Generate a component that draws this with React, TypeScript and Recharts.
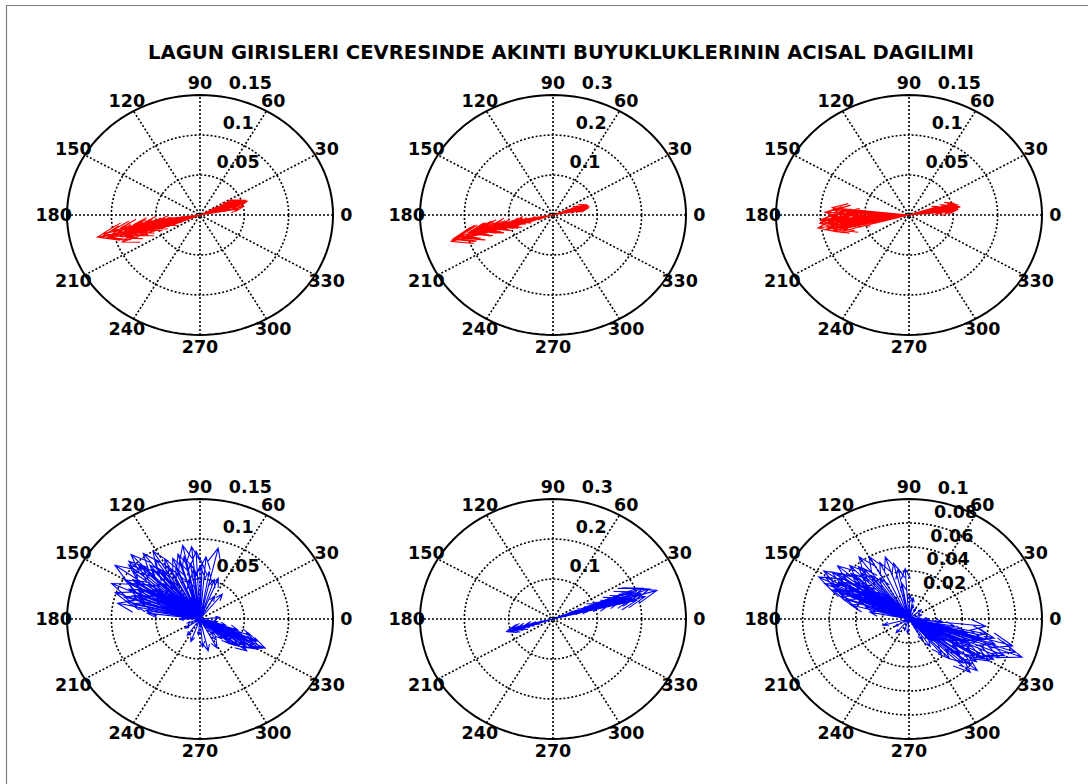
import { ComposedChart, Line, Scatter, XAxis, YAxis } from "recharts";

// Current directions (degrees, math convention) and magnitudes per station.
const topLeftDir = [193.5, 192, 195, 191, 194, 196, 190, 193, 197, 192, 195, 189, 194, 198, 191, 196, 193, 199, 190, 195, 192, 197, 194, 191, 196, 193, 199, 190, 195, 192, 201, 188, 200, 187, 202, 201, 199, 194, 196, 192, 195, 193, 197, 191, 194, 196, 193, 195, 198, 192, 194, 190, 197, 195, 193, 196, 194,
  18, 20, 16, 22, 19, 24, 17, 21, 15, 23, 19, 26, 14, 20, 17, 22, 18, 25, 16, 21, 12, 10, 19, 21, 17, 23, 15, 20, 18, 22, 16, 24];
const topLeftSpeed = [0.119, 0.112, 0.108, 0.1, 0.098, 0.094, 0.09, 0.087, 0.084, 0.081, 0.078, 0.075, 0.072, 0.07, 0.067, 0.064, 0.061, 0.058, 0.055, 0.052, 0.049, 0.046, 0.043, 0.04, 0.036, 0.032, 0.028, 0.024, 0.02, 0.015, 0.072, 0.062, 0.05, 0.045, 0.035, 0.094, 0.088, 0.115, 0.104, 0.096, 0.091, 0.085, 0.079, 0.076, 0.071, 0.068, 0.063, 0.059, 0.054, 0.051, 0.047, 0.042, 0.038, 0.034, 0.03, 0.026, 0.022,
  0.056, 0.054, 0.052, 0.05, 0.048, 0.046, 0.045, 0.043, 0.041, 0.04, 0.038, 0.036, 0.034, 0.032, 0.029, 0.026, 0.022, 0.019, 0.015, 0.011, 0.05, 0.044, 0.053, 0.051, 0.047, 0.045, 0.042, 0.039, 0.035, 0.031, 0.027, 0.024];

const topMidDir = [196, 195, 194, 196.5, 193, 195, 192, 194, 191, 196, 193, 190, 195, 192, 194, 197, 191, 193, 195, 192, 196, 194, 191, 193, 195, 192, 194, 198, 189, 197, 195, 194, 196, 193, 195, 192, 194, 196, 193, 195, 194, 192, 195, 193, 196,
  14, 17, 12, 19, 15, 13, 18, 16, 11, 20, 14, 17, 12, 15, 19, 13, 16, 14, 18, 15, 15, 13, 16, 14, 17, 12, 15, 18];
const topMidSpeed = [0.239, 0.228, 0.215, 0.205, 0.196, 0.185, 0.176, 0.168, 0.16, 0.152, 0.145, 0.138, 0.13, 0.122, 0.114, 0.106, 0.098, 0.09, 0.082, 0.074, 0.066, 0.058, 0.05, 0.042, 0.034, 0.026, 0.018, 0.095, 0.085, 0.125, 0.234, 0.222, 0.21, 0.19, 0.18, 0.171, 0.155, 0.148, 0.135, 0.118, 0.102, 0.086, 0.07, 0.054, 0.038,
  0.084, 0.082, 0.08, 0.078, 0.076, 0.073, 0.07, 0.067, 0.064, 0.061, 0.058, 0.054, 0.05, 0.046, 0.042, 0.037, 0.032, 0.027, 0.021, 0.015, 0.081, 0.075, 0.071, 0.065, 0.06, 0.052, 0.044, 0.035];

const topRightDir = [189, 186, 183, 178, 174, 191, 187, 181, 176, 193, 185, 179, 195, 188, 183, 177, 190, 186, 181, 192, 184, 188, 180, 186, 190, 183, 187, 185, 189, 182, 184, 178, 190, 186, 181, 175, 192, 188, 183, 179, 185, 187, 182, 189, 184, 180,
  10, 13, 7, 16, 9, 12, 5, 15, 11, 8, 14, 6, 18, 10, 12, 8, 15, 11, 9, 11, 9, 13, 7, 12, 10];
const topRightSpeed = [0.104, 0.101, 0.098, 0.093, 0.087, 0.096, 0.092, 0.089, 0.085, 0.088, 0.084, 0.081, 0.076, 0.078, 0.074, 0.07, 0.068, 0.064, 0.06, 0.057, 0.053, 0.048, 0.044, 0.04, 0.035, 0.03, 0.025, 0.019, 0.013, 0.009, 0.1, 0.095, 0.093, 0.09, 0.087, 0.083, 0.08, 0.077, 0.072, 0.069, 0.066, 0.062, 0.055, 0.05, 0.046, 0.038,
  0.058, 0.056, 0.055, 0.053, 0.051, 0.049, 0.047, 0.046, 0.044, 0.041, 0.039, 0.036, 0.034, 0.031, 0.027, 0.023, 0.019, 0.014, 0.009, 0.057, 0.052, 0.048, 0.043, 0.038, 0.033];

const botLeftDir = [145, 156, 161, 168, 122, 102, 96, 77, 165, 150, 140, 135, 130, 127, 118, 112, 108, 99, 90, 85, 80, 72, 68, 148, 153, 158, 163, 170, 173, 143, 138, 133, 125, 115, 105, 146, 152, 160, 141, 128, 120, 110, 157, 165, 175, 180, 51, 60, 134, 138, 128,
  142, 147, 151, 155, 159, 162, 166, 136, 131, 124, 119, 113, 107, 103, 97, 93, 88, 144, 149, 154, 139, 126,
  215, 235, 250, 200, 283, 275, 265,
  333.6, 323, 298, 337, 337, 330, 327, 335, 320, 318, 340, 331, 325, 342, 328, 315, 335, 310, 345, 5, 350, 305, 332, 336, 326, 329, 334, 322, 338];
const botLeftSpeed = [0.117, 0.109, 0.101, 0.095, 0.1, 0.094, 0.091, 0.091, 0.086, 0.098, 0.105, 0.092, 0.088, 0.08, 0.085, 0.082, 0.075, 0.07, 0.066, 0.078, 0.06, 0.052, 0.055, 0.085, 0.078, 0.074, 0.069, 0.062, 0.06, 0.072, 0.066, 0.06, 0.058, 0.064, 0.05, 0.055, 0.048, 0.044, 0.04, 0.036, 0.03, 0.028, 0.032, 0.025, 0.02, 0.023, 0.04, 0.033, 0.112, 0.108, 0.104,
  0.097, 0.09, 0.093, 0.088, 0.081, 0.09, 0.078, 0.096, 0.082, 0.09, 0.075, 0.07, 0.085, 0.08, 0.062, 0.085, 0.07, 0.062, 0.07, 0.058, 0.048, 0.072,
  0.02, 0.025, 0.03, 0.015, 0.041, 0.035, 0.02,
  0.082, 0.066, 0.041, 0.07, 0.04, 0.075, 0.06, 0.055, 0.05, 0.045, 0.062, 0.048, 0.038, 0.045, 0.03, 0.035, 0.028, 0.025, 0.03, 0.022, 0.02, 0.032, 0.078, 0.068, 0.064, 0.072, 0.058, 0.055, 0.05];

const botMidDir = [17, 20.8, 17, 15, 19, 18, 21, 16, 19, 17, 20, 18, 16, 19, 17, 21, 18, 16, 19, 17, 20, 18, 16, 19, 17, 22, 14, 196.8, 195, 198, 194, 197, 195, 199, 196, 193, 197, 195, 198, 194, 196, 195];
const botMidSpeed = [0.245, 0.217, 0.2, 0.215, 0.23, 0.208, 0.19, 0.185, 0.175, 0.165, 0.155, 0.145, 0.135, 0.125, 0.115, 0.105, 0.095, 0.085, 0.075, 0.065, 0.055, 0.045, 0.035, 0.025, 0.015, 0.205, 0.195, 0.109, 0.104, 0.1, 0.095, 0.09, 0.083, 0.077, 0.07, 0.063, 0.056, 0.048, 0.04, 0.032, 0.024, 0.015];

const botRightDir = [152.7, 148, 140.5, 126, 109, 94, 163, 149, 145, 155, 157, 135, 131, 120, 115, 138, 142, 150, 160, 153, 147, 144, 128, 123, 137, 158, 165, 169, 100, 104, 88, 80, 75, 101, 151, 146, 154, 143, 139, 148, 156, 133, 129, 161, 152, 141,
  195, 210, 230, 250, 265,
  339.5, 344, 320, 354, 339, 312.6, 315, 5, 335, 330, 325, 342, 348, 336, 328, 318, 322, 345, 333, 310, 350, 340, 326, 305, 355, 300, 0, 20, 40, 60, 316, 321, 341, 337, 332, 346, 329, 343, 334, 324];
const botRightSpeed = [0.0764, 0.0756, 0.0696, 0.064, 0.0547, 0.042, 0.034, 0.06, 0.066, 0.07, 0.062, 0.063, 0.058, 0.06, 0.052, 0.055, 0.05, 0.052, 0.055, 0.045, 0.042, 0.036, 0.046, 0.04, 0.032, 0.04, 0.045, 0.03, 0.03, 0.048, 0.02, 0.018, 0.012, 0.043, 0.072, 0.07, 0.065, 0.062, 0.058, 0.048, 0.058, 0.052, 0.054, 0.05, 0.038, 0.044,
  0.02, 0.012, 0.015, 0.01, 0.012,
  0.0907, 0.081, 0.067, 0.058, 0.054, 0.045, 0.025, 0.008, 0.075, 0.07, 0.062, 0.068, 0.06, 0.05, 0.058, 0.055, 0.048, 0.045, 0.04, 0.038, 0.035, 0.03, 0.032, 0.028, 0.025, 0.02, 0.015, 0.01, 0.012, 0.01, 0.064, 0.06, 0.085, 0.078, 0.072, 0.066, 0.064, 0.058, 0.052, 0.047];

// Radial ring values for each panel
const ringsA = [0.05, 0.1, 0.15];
const ringsB = [0.1, 0.2, 0.3];
const ringsC = [0.02, 0.04, 0.06, 0.08, 0.1];

const angleTicks = [0, 30, 60, 90, 120, 150, 180, 210, 240, 270, 300, 330];

const TITLE = "LAGUN GIRISLERI CEVRESINDE AKINTI BUYUKLUKLERININ ACISAL DAGILIMI";

const RX = 133;
const RY = 120;
const W = 360;
const H = 330;
const FONT = "'DejaVu Sans', sans-serif";
const rad = (d: number) => (d * Math.PI) / 180;

const panels = [
  { cx: 200, cy: 215, rings: ringsA, dir: topLeftDir, speed: topLeftSpeed, color: "#ff0000" },
  { cx: 553, cy: 215, rings: ringsB, dir: topMidDir, speed: topMidSpeed, color: "#ff0000" },
  { cx: 909, cy: 215, rings: ringsA, dir: topRightDir, speed: topRightSpeed, color: "#ff0000" },
  { cx: 200, cy: 619, rings: ringsA, dir: botLeftDir, speed: botLeftSpeed, color: "#0000ff" },
  { cx: 553, cy: 619, rings: ringsB, dir: botMidDir, speed: botMidSpeed, color: "#0000ff" },
  { cx: 909, cy: 619, rings: ringsC, dir: botRightDir, speed: botRightSpeed, color: "#0000ff" },
];

type Pt = { x: number; y: number | null; label?: string };

// compass-style arrows: 0 -> tip -> barb -> tip -> barb, then a gap
function arrowPath(dir: number[], speed: number[]): Pt[] {
  const head = [[0, 0], [1, 0], [0.8, 0.08], [1, 0], [0.8, -0.08]];
  const pts: Pt[] = [];
  dir.forEach((d, i) => {
    const u = speed[i] * Math.cos(rad(d));
    const v = speed[i] * Math.sin(rad(d));
    head.forEach(([p, q]) => pts.push({ x: p * u - q * v, y: p * v + q * u }));
    pts.push({ x: 0, y: null });
  });
  return pts;
}

function ring(r: number): Pt[] {
  const pts: Pt[] = [];
  for (let k = 0; k <= 120; k++) {
    pts.push({ x: r * Math.cos(rad(k * 3)), y: r * Math.sin(rad(k * 3)) });
  }
  return pts;
}

function spokes(r: number): Pt[] {
  const pts: Pt[] = [];
  for (let a = 0; a < 180; a += 30) {
    pts.push({ x: -r * Math.cos(rad(a)), y: -r * Math.sin(rad(a)) });
    pts.push({ x: r * Math.cos(rad(a)), y: r * Math.sin(rad(a)) });
    pts.push({ x: 0, y: null });
  }
  return pts;
}

const labelStyle = { fontFamily: FONT, fontWeight: 700, fontSize: 17.5, fill: "#000" };

function Compass({ rings, dir, speed, color }: { rings: number[]; dir: number[]; speed: number[]; color: string }) {
  const rmax = rings[rings.length - 1];
  const rinc = rings[0];
  const hx = (rmax * (W / 2)) / RX;
  const hy = (rmax * (H / 2)) / RY;

  const angleLabels = angleTicks.map((a) => ({
    x: 1.1 * rmax * Math.cos(rad(a)),
    y: 1.1 * rmax * Math.sin(rad(a)),
    label: String(a),
  }));
  const ringLabels = rings.map((r) => ({
    x: (r + rinc / 20) * Math.cos(rad(82)),
    y: (r + rinc / 20) * Math.sin(rad(82)),
    label: String(r),
  }));

  return (
    <ComposedChart width={W} height={H} margin={{ top: 0, right: 0, bottom: 0, left: 0 }}>
      <XAxis type="number" dataKey="x" domain={[-hx, hx]} allowDataOverflow hide />
      <YAxis type="number" dataKey="y" domain={[-hy, hy]} allowDataOverflow hide />
      {rings.slice(0, -1).map((r) => (
        <Line
          key={r}
          data={ring(r)}
          dataKey="y"
          stroke="#000"
          strokeWidth={1.6}
          strokeDasharray="2 2"
          dot={false}
          activeDot={false}
          isAnimationActive={false}
        />
      ))}
      <Line
        data={spokes(rmax)}
        dataKey="y"
        stroke="#000"
        strokeWidth={1.6}
        strokeDasharray="2 2"
        dot={false}
        activeDot={false}
        isAnimationActive={false}
      />
      <Line
        data={ring(rmax)}
        dataKey="y"
        stroke="#000"
        strokeWidth={2}
        dot={false}
        activeDot={false}
        isAnimationActive={false}
      />
      <Line
        data={arrowPath(dir, speed)}
        dataKey="y"
        stroke={color}
        strokeWidth={1.1}
        dot={false}
        activeDot={false}
        isAnimationActive={false}
      />
      <Scatter
        data={angleLabels}
        isAnimationActive={false}
        shape={(p: any) => (
          <text x={p.cx} y={p.cy} textAnchor="middle" dominantBaseline="central" style={labelStyle}>
            {p.payload.label}
          </text>
        )}
      />
      <Scatter
        data={ringLabels}
        isAnimationActive={false}
        shape={(p: any) => (
          <text x={p.cx + 10} y={p.cy - 5} textAnchor="start" style={labelStyle}>
            {p.payload.label}
          </text>
        )}
      />
    </ComposedChart>
  );
}

export default function App() {
  return (
    <div style={{ position: "absolute", left: 0, top: 0, width: 1088, height: 784, background: "#fff", overflow: "hidden" }}>
      <svg width={1088} height={784} style={{ position: "absolute", left: 0, top: 0 }}>
        <line x1={6} y1={5.5} x2={1088} y2={5.5} stroke="#808080" strokeWidth={1.2} />
        <line x1={6.5} y1={5} x2={6.5} y2={784} stroke="#808080" strokeWidth={1.2} />
        <text x={561} y={59} textAnchor="middle" style={{ ...labelStyle, fontSize: 19.6 }}>
          {TITLE}
        </text>
      </svg>
      {panels.map((p, i) => (
        <div key={i} style={{ position: "absolute", left: p.cx - W / 2, top: p.cy - H / 2, width: W, height: H }}>
          <Compass rings={p.rings} dir={p.dir} speed={p.speed} color={p.color} />
        </div>
      ))}
    </div>
  );
}
